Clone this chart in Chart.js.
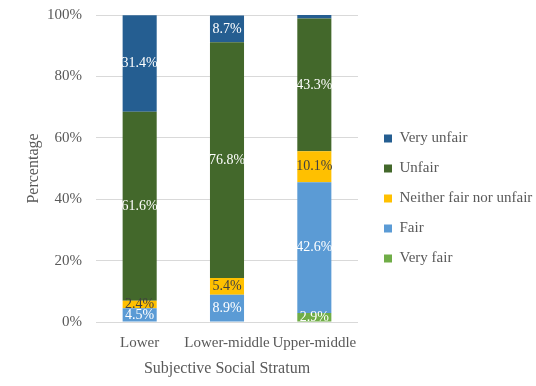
<!DOCTYPE html>
<html><head><meta charset="utf-8">
<script src="https://cdn.jsdelivr.net/npm/chart.js@4"></script>
<style>html,body{margin:0;padding:0;background:#fff}#w{width:536px;height:386px}</style>
</head><body><div id="w"><canvas id="c"></canvas></div>
<script>
const categories = ["Lower", "Lower-middle", "Upper-middle"];
const veryFair = [0, 0, 2.9];
const fair = [4.5, 8.9, 42.6];
const neither = [2.4, 5.4, 10.1];
const unfair = [61.6, 76.8, 43.3];
const veryUnfair = [31.4, 8.7, 1.1];
const yTicks = [0, 20, 40, 60, 80, 100];
const FONT = "'Liberation Serif', 'DejaVu Serif', serif";

const labelPlugin = {
  id: 'segLabels',
  afterDatasetsDraw(chart) {
    const ctx = chart.ctx;
    ctx.save();
    ctx.font = "14px " + FONT;
    ctx.textAlign = 'center';
    ctx.textBaseline = 'middle';
    chart.data.datasets.forEach((ds, i) => {
      const meta = chart.getDatasetMeta(i);
      meta.data.forEach((bar, j) => {
        const v = ds.data[j];
        if (v < 2) return;
        const y = (bar.y + bar.base) / 2;
        ctx.fillStyle = ds.labelColor;
        ctx.fillText(v.toFixed(1) + '%', bar.x, y);
      });
    });
    ctx.restore();
  }
};

const legendPlugin = {
  id: 'legendTweak',
  afterInit(chart) {
    const lg = chart.legend;
    const f = lg.fit;
    lg.fit = function () { f.call(this); this.width = 172; };
    const d = lg.draw;
    lg.draw = function () {
      const ctx = this.ctx;
      ctx.save();
      ctx.translate(11, 0);
      d.call(this);
      ctx.restore();
    };
  }
};

Chart.defaults.font.family = FONT;
Chart.defaults.color = '#595959';

new Chart(document.getElementById('c'), {
  type: 'bar',
  data: {
    labels: categories,
    datasets: [
      {label: 'Very fair', data: veryFair, backgroundColor: '#70AD47', labelColor: '#ffffff'},
      {label: 'Fair', data: fair, backgroundColor: '#5B9BD5', labelColor: '#ffffff'},
      {label: 'Neither fair nor unfair', data: neither, backgroundColor: '#FFC000', labelColor: '#404040'},
      {label: 'Unfair', data: unfair, backgroundColor: '#43682B', labelColor: '#ffffff'},
      {label: 'Very unfair', data: veryUnfair, backgroundColor: '#255E91', labelColor: '#ffffff'}
    ]
  },
  options: {
    responsive: true,
    maintainAspectRatio: false,
    animation: false,
    layout: {padding: {left: 20, right: 6, top: 15, bottom: 4}},
    datasets: {bar: {categoryPercentage: 1.0, barPercentage: 0.39}},
    scales: {
      x: {
        stacked: true,
        grid: {display: false},
        border: {display: false},
        ticks: {font: {size: 15}, color: '#595959', autoSkip: false, maxRotation: 0, minRotation: 0, padding: 4},
        title: {display: true, text: 'Subjective Social Stratum', font: {size: 16}, color: '#595959', padding: {top: 6}},
        afterFit(s) { s.height = 60; s.paddingLeft = 0; s.paddingRight = 0; }
      },
      y: {
        stacked: true,
        min: 0, max: 100,
        afterBuildTicks(s) { s.ticks = yTicks.map(v => ({value: v})); },
        ticks: {font: {size: 15}, color: '#595959', padding: 14, callback: v => v + '%'},
        grid: {color: '#d9d9d9', drawTicks: false},
        border: {display: false},
        title: {display: true, text: 'Percentage', font: {size: 16}, color: '#595959'},
        afterFit(s) { s.width = 76; s.paddingTop = 0; s.paddingBottom = 0; }
      }
    },
    plugins: {
      legend: {
        position: 'right',
        reverse: true,
        labels: {boxWidth: 8, boxHeight: 8, padding: 15, font: {size: 15}, color: '#595959'}
      },
      tooltip: {enabled: false}
    }
  },
  plugins: [labelPlugin, legendPlugin]
});
</script></body></html>
